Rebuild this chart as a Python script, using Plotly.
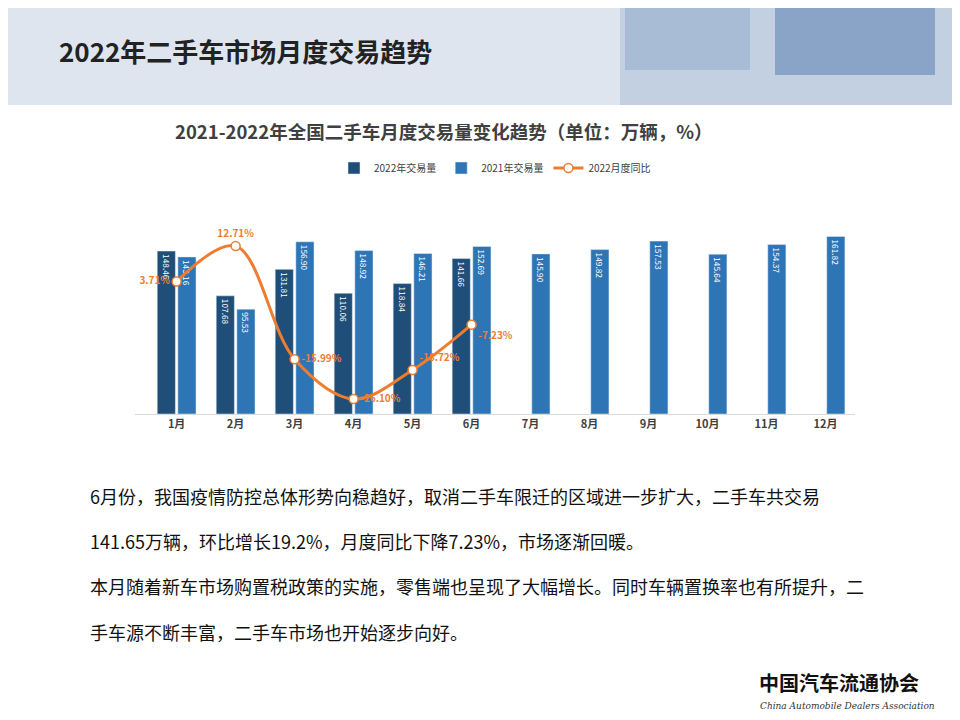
import plotly.graph_objects as go

months = ["1月","2月","3月","4月","5月","6月","7月","8月","9月","10月","11月","12月"]
v2022 = [148.46,107.68,131.81,110.06,118.84,141.66]
v2021 = [143.16,95.53,156.90,148.92,146.21,152.69,145.90,149.82,157.53,145.64,154.37,161.82]
yoy = [3.71,12.71,-15.99,-26.10,-18.72,-7.23]
yoy_pos = ["middle left","top center","middle right","middle right","top right","bottom right"]

F = "Noto Sans CJK SC"
OFF = 8
def px(x): return (x-OFF)/960
def py(y): return 1-(y-OFF)/720

fig = go.Figure()
fig.add_bar(x=months[:6], y=v2022, name="2022年交易量", marker_color="#1f4e79",
            text=[f"{v:.2f}" for v in v2022], textposition="inside", insidetextanchor="end",
            textangle=90, textfont=dict(color="white", size=13, family=F))
fig.add_bar(x=months, y=v2021, name="2021年交易量", marker_color="#2e75b6",
            text=[f"{v:.2f}" for v in v2021], textposition="inside", insidetextanchor="end",
            textangle=90, textfont=dict(color="white", size=13, family=F))
fig.add_scatter(x=months[:6], y=yoy, name="2022月度同比", yaxis="y2", mode="lines+markers+text",
                line=dict(color="#ed7d31", width=3, shape="spline"),
                marker=dict(size=9, color="white", line=dict(color="#ed7d31", width=1.5)),
                text=[f"<b>{v:.2f}%</b>" for v in yoy], textposition=yoy_pos,
                textfont=dict(color="#ed7d31", size=10, family=F))

shapes = [
    dict(type="rect", xref="paper", yref="paper", x0=-0.02, x1=1.02, y0=py(105), y1=1.02,
         fillcolor="#dfe5ee", line_width=0, layer="below"),
    dict(type="rect", xref="paper", yref="paper", x0=px(620), x1=1.02, y0=py(105), y1=1.02,
         fillcolor="#c3d0e2", line_width=0, layer="below"),
    dict(type="rect", xref="paper", yref="paper", x0=px(625), x1=px(750), y0=py(70), y1=1.02,
         fillcolor="#a9bcd6", line_width=0, layer="below"),
    dict(type="rect", xref="paper", yref="paper", x0=px(775), x1=px(935), y0=py(75), y1=1.02,
         fillcolor="#8aa4c8", line_width=0, layer="below"),
]
ann = [
    dict(text="<b>2022年二手车市场月度交易趋势</b>", x=px(57), y=py(50), xanchor="left", yanchor="middle",
         font=dict(size=26, color="#222", family=F)),
    dict(text="<b>2021-2022年全国二手车月度交易量变化趋势（单位：万辆，%）</b>", x=px(443), y=py(131),
         xanchor="center", yanchor="middle", font=dict(size=18.5, color="#404040", family=F)),
    dict(text="6月份，我国疫情防控总体形势向稳趋好，取消二手车限迁的区域进一步扩大，二手车共交易", x=px(88), y=py(496),
         xanchor="left", yanchor="middle", font=dict(size=18, color="#111", family=F)),
    dict(text="141.65万辆，环比增长19.2%，月度同比下降7.23%，市场逐渐回暖。", x=px(88), y=py(541),
         xanchor="left", yanchor="middle", font=dict(size=18, color="#111", family=F)),
    dict(text="本月随着新车市场购置税政策的实施，零售端也呈现了大幅增长。同时车辆置换率也有所提升，二", x=px(88), y=py(586),
         xanchor="left", yanchor="middle", font=dict(size=18, color="#111", family=F)),
    dict(text="手车源不断丰富，二手车市场也开始逐步向好。", x=px(88), y=py(632),
         xanchor="left", yanchor="middle", font=dict(size=18, color="#111", family=F)),
    dict(text="<b>中国汽车流通协会</b>", x=px(757), y=py(682), xanchor="left", yanchor="middle",
         font=dict(size=20, color="#111", family=F)),
    dict(text="<i>China Automobile Dealers Association</i>", x=px(758), y=py(706), xanchor="left", yanchor="middle",
         font=dict(size=9, color="#333", family="DejaVu Serif")),
]
for a in ann:
    a.update(xref="paper", yref="paper", showarrow=False)

fig.update_layout(
    width=960, height=720, margin=dict(l=0, r=0, t=0, b=0),
    paper_bgcolor="white", plot_bgcolor="white",
    barmode="group", bargap=0.3, bargroupgap=0.12,
    font=dict(family=F),
    xaxis=dict(domain=[px(135), px(855)], categoryorder="array", categoryarray=months,
               showline=True, linecolor="#d9d9d9", ticks="", tickprefix="<b>", ticksuffix="</b>",
               tickfont=dict(size=11, color="#404040", family=F)),
    yaxis=dict(domain=[py(414), py(200)], range=[0, 195], visible=False),
    yaxis2=dict(overlaying="y", range=[-29.9, 24.4], visible=False),
    legend=dict(orientation="h", x=px(495), xanchor="center", y=py(168), yanchor="middle",
                font=dict(size=10, color="#404040", family=F)),
    shapes=shapes, annotations=ann,
)
fig.write_html("out.html")
